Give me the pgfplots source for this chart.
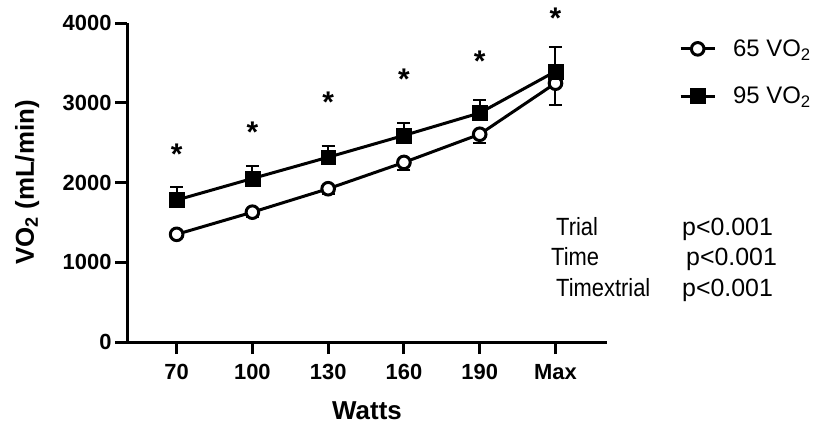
\documentclass[border=0pt]{standalone}
\usepackage{pgfplots}
\pgfplotsset{compat=1.18}
\usepackage{fontspec}
\setmainfont{Liberation Sans}
\begin{document}
\begin{tikzpicture}[x=1bp,y=1bp]
\useasboundingbox (0,0) rectangle (822,429);
\begin{axis}[
  at={(127bp,87bp)}, anchor=south west,
  scale only axis, width=480bp, height=319bp,
  xmin=-0.655, xmax=5.68, ymin=0, ymax=4000,
  axis lines=left,
  axis line style={-, line width=3bp, black},
  xtick={0,1,2,3,4,5},
  xticklabels={70,100,130,160,190,Max},
  ytick={0,1000,2000,3000,4000},
  tick align=outside, major tick length=12bp,
  tick style={line width=3bp, black},
  ticklabel style={font=\fontsize{22}{26}\selectfont\bfseries},
  xticklabel style={yshift=-7bp},
  /pgf/number format/assume math mode=true,
  /pgf/number format/1000 sep={},
  scaled y ticks=false,
  clip=false,
  xlabel={Watts}, ylabel={VO\textsubscript{2} (mL/min)},
  label style={font=\fontsize{26}{30}\selectfont\bfseries},
  xlabel style={at={(axis description cs:0.5,-0.216)}, anchor=center},
  ylabel style={at={(axis description cs:-0.208,0.5)}, anchor=center},
  legend style={draw=none, fill=none, at={(1.15,0.845)}, anchor=west,
    font=\fontsize{24}{28}\selectfont, row sep=25bp, inner sep=0pt,
    /tikz/every odd column/.append style={column sep=15bp}},
  legend cell align=left,
  legend image code/.code={\draw[mark repeat=2,mark phase=2,#1] plot coordinates {(0bp,0bp) (17bp,0bp) (34bp,0bp)};},
]
\addplot[black, line width=3bp, mark=*, mark size=6.3bp,
  mark options={fill=white, line width=3bp}]
  coordinates {
  (0,1350) (1,1628) (2,1922) (3,2252) (4,2605) (5,3245)
};
\addlegendentry{65 VO\textsubscript{2}}
\addplot[black, line width=3bp, mark=square*, mark size=7.4bp,
  mark options={fill=black, line width=0.5bp},
  error bars/.cd, y dir=plus, y explicit,
  error bar style={line width=2bp, black},
  error mark options={rotate=90, mark size=6.5bp, line width=2bp, black}]
  coordinates {
  (0,1780) += (0,165)
  (1,2050) += (0,155)
  (2,2317) += (0,135)
  (3,2590) += (0,150)
  (4,2872) += (0,160)
  (5,3393) += (0,305)
};
\addlegendentry{95 VO\textsubscript{2}}
\addplot[draw=none, no marks, forget plot,
  error bars/.cd, y dir=minus, y explicit,
  error bar style={line width=2bp, black},
  error mark options={rotate=90, mark size=6.5bp, line width=2bp, black}]
  coordinates {
  (0,1350) -= (0,30)
  (1,1628) -= (0,60)
  (2,1922) -= (0,70)
  (3,2252) -= (0,90)
  (4,2605) -= (0,115)
  (5,3245) -= (0,270)
};
\addplot[only marks, mark=text, text mark={\fontsize{30}{34}\selectfont\bfseries *}, forget plot]
  coordinates {
  (0,2350) (1,2625) (2,3010) (3,3290) (4,3515) (5,4065)
};
\end{axis}
\begin{scope}[every node/.style={inner sep=0pt, anchor=base west, font=\fontsize{25}{29}\selectfont}]
\node[xscale=0.88] at (556,194) {Trial};
\node at (682,194) {p<0.001};
\node[xscale=0.88] at (551,164) {Time};
\node at (686,164) {p<0.001};
\node[xscale=0.88] at (556,133) {Timextrial};
\node at (682,133) {p<0.001};
\end{scope}
\end{tikzpicture}
\end{document}
